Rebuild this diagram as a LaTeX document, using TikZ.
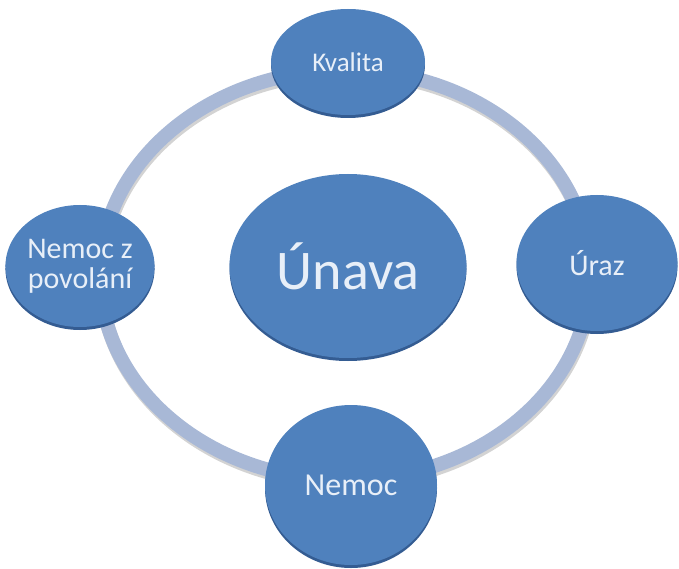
\documentclass[tikz,border=0pt]{standalone}
\usepackage{fontspec}
\setmainfont{Carlito}
\usepackage{tikz}
\usetikzlibrary{positioning,shapes.geometric,shadows}
\usepackage{xcolor}
\definecolor{discBlue}{RGB}{79,129,189}
\definecolor{discRim}{RGB}{52,92,146}
\definecolor{ringBlue}{RGB}{168,184,214}
\definecolor{labelWhite}{RGB}{232,239,248}

\begin{document}
\begin{tikzpicture}[
    x=1pt, y=-1pt,
    disc/.style={ellipse, fill=discBlue, draw=none, text=labelWhite, align=center, inner sep=0pt,
        drop shadow={shadow xshift=0pt, shadow yshift=-3pt, fill=discRim, opacity=1}},
    ringLine/.style={draw=ringBlue, line width=14pt}
]
    \useasboundingbox (0,0) rectangle (679,569);

    % ring behind the discs
    \coordinate (hub) at (345,275);
    \draw[gray, opacity=0.35, line width=14pt] ([shift={(1,3)}]hub) ellipse [x radius=245, y radius=205];
    \draw[ringLine] (hub) ellipse [x radius=245, y radius=205];

    \node[disc, minimum width=154, minimum height=106, font=\fontsize{27}{27}\selectfont] (kvalita) at (348,62) {Kvalita};
    \node[disc, minimum width=136, minimum height=122, font=\fontsize{30}{30}\selectfont] (povolani) at (80,266) {Nemoc z\\povolání};
    \node[disc, minimum width=161, minimum height=136, font=\fontsize{30}{30}\selectfont] (uraz) at (597,263) {Úraz};
    \node[disc, minimum width=172, minimum height=160, font=\fontsize{32}{32}\selectfont] (nemoc) at (351,485) {Nemoc};
    \node[disc, minimum width=237, minimum height=184, font=\fontsize{56}{56}\selectfont] (unava) at (348,266) {Únava};
\end{tikzpicture}
\end{document}
